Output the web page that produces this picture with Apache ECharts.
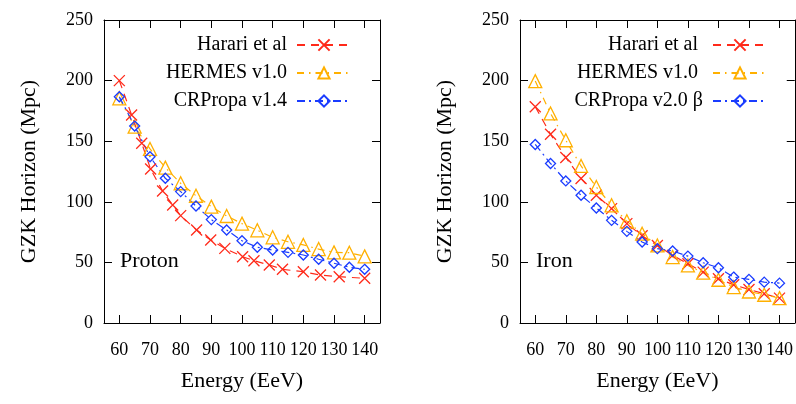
<!DOCTYPE html>
<html>
<head>
<meta charset="utf-8">
<script src="https://cdn.jsdelivr.net/npm/echarts@6/dist/echarts.min.js"></script>
<style>
    html, body { margin: 0; padding: 0; background: #fff; }
    #gzk-chart { width: 796px; height: 404px; }
</style>
</head>
<body>
<div id="gzk-chart"></div>
<script>
// energies (EeV) used by HERMES / CRPropa, and Harari's iron curve
var energies = [60, 65, 70, 75, 80, 85, 90, 95, 100, 105, 110, 115, 120, 125, 130, 135, 140];
// Harari proton points sit at their own energies
var harariProtonE = [60, 64, 67.3, 70.2, 74.1, 77.4, 80, 85.2, 89.8, 94.4, 100.2, 103.9, 108.9, 113.2, 120, 125.6, 131.7, 140];
var harariProton = [200, 171.6, 148.3, 127, 108.9, 97.4, 88.6, 76.7, 68.5, 61.6, 54.7, 51.4, 47.9, 44.3, 42.3, 39.6, 38.2, 36.9];
var hermesProton = [185.4, 162, 143.6, 128.2, 115.3, 105, 96, 88.3, 82, 76.5, 70.7, 67, 64.4, 61, 58.3, 58, 55];
var crpropaProton = [186.7, 162.5, 137.2, 119.4, 108.4, 96.5, 85.3, 76.7, 67.9, 62.5, 60.2, 58.3, 56.1, 52.6, 49.3, 46, 44.3];

var harariIron = [178.4, 155.8, 136.5, 119.2, 105.4, 94.4, 82, 72, 64, 55.8, 48.9, 42, 36.5, 31.5, 27.7, 24.1, 20.5];
var hermesIron = [199.6, 172.9, 150.8, 129.6, 112.2, 97.1, 83.9, 73.7, 64, 54.4, 47.5, 41.5, 35.7, 29.6, 26, 23.3, 20.5];
var crpropaIron = [147.3, 131.6, 117.2, 105.4, 94.9, 84.7, 75.6, 66.8, 61.3, 59.4, 55.2, 49.7, 45.6, 37.9, 36, 33.7, 32.9];

var xTicks = [60, 70, 80, 90, 100, 110, 120, 130, 140];

var FONT = 'Liberation Serif';
var RED = '#ff2a1a', ORANGE = '#ffb000', BLUE = '#1a3cff';
var CROSS = 'path://M0,0L10,10M10,0L0,10';

function pairs(xs, ys) {
    var out = [];
    for (var i = 0; i < ys.length; i++) out.push([xs[i], ys[i]]);
    return out;
}

function xAxisFor(grid, pos) {
    return {
        type: 'value', gridIndex: grid, position: pos,
        min: 55, max: 145,
        axisLine: { show: true, onZero: false, lineStyle: { color: '#000', width: 1 } },
        axisTick: { show: true, inside: true, length: 8, customValues: xTicks, lineStyle: { color: '#000' } },
        axisLabel: pos === 'bottom'
            ? { show: true, customValues: xTicks, margin: 18, color: '#000', fontFamily: FONT, fontSize: 18 }
            : { show: false },
        splitLine: { show: false },
        name: pos === 'bottom' ? 'Energy (EeV)' : '',
        nameLocation: 'middle', nameGap: 47,
        nameTextStyle: { color: '#000', fontFamily: FONT, fontSize: 22 }
    };
}

function yAxisFor(grid, pos) {
    return {
        type: 'value', gridIndex: grid, position: pos,
        min: 0, max: 250, interval: 50,
        axisLine: { show: true, onZero: false, lineStyle: { color: '#000', width: 1 } },
        axisTick: { show: true, inside: true, length: 8, lineStyle: { color: '#000' } },
        axisLabel: pos === 'left'
            ? { show: true, margin: 11, color: '#000', fontFamily: FONT, fontSize: 18 }
            : { show: false },
        splitLine: { show: false },
        name: pos === 'left' ? 'GZK Horizon (Mpc)' : '',
        nameLocation: 'middle', nameGap: 64,
        nameTextStyle: { color: '#000', fontFamily: FONT, fontSize: 22 }
    };
}

function curve(name, grid, data, color, symbol, size, dash) {
    return {
        name: name, type: 'line',
        xAxisIndex: grid * 2, yAxisIndex: grid * 2,
        data: data,
        symbol: symbol, symbolSize: size, showAllSymbol: true,
        color: color,
        lineStyle: { color: color, width: 1.2, type: dash },
        itemStyle: { color: 'rgba(0,0,0,0)', borderColor: color, borderWidth: 1.3 },
        emphasis: { disabled: true },
        animation: false
    };
}

function legendFor(names, right) {
    return {
        data: names, orient: 'vertical', align: 'right',
        right: right, top: 30,
        itemWidth: 54, itemHeight: 14, itemGap: 8,
        selectedMode: false,
        textStyle: { color: '#000', fontFamily: FONT, fontSize: 20, lineHeight: 20, padding: [0, 5, 0, 0] }
    };
}

var chart = echarts.init(document.getElementById('gzk-chart'));
var option = {
    backgroundColor: '#fff',
    animation: false,
    grid: [
        { left: 104, top: 20, width: 276, height: 303 },
        { left: 520, top: 20, width: 275, height: 303 }
    ],
    xAxis: [xAxisFor(0, 'bottom'), xAxisFor(0, 'top'), xAxisFor(1, 'bottom'), xAxisFor(1, 'top')],
    yAxis: [yAxisFor(0, 'left'), yAxisFor(0, 'right'), yAxisFor(1, 'left'), yAxisFor(1, 'right')],
    legend: [
        legendFor(['Harari et al', 'HERMES v1.0', 'CRPropa v1.4'], 796 - 357),
        legendFor(['Harari et al ', 'HERMES v1.0 ', 'CRPropa v2.0 β'], 796 - 773)
    ],
    graphic: [
        { type: 'text', left: 120, top: 250, style: { text: 'Proton', fill: '#000', font: '22px "Liberation Serif"' } },
        { type: 'text', left: 536, top: 250, style: { text: 'Iron', fill: '#000', font: '22px "Liberation Serif"' } }
    ],
    series: [
        curve('Harari et al', 0, pairs(harariProtonE, harariProton), RED, CROSS, 11, [8, 6]),
        curve('HERMES v1.0', 0, pairs(energies, hermesProton), ORANGE, 'triangle', 13, [7, 5, 1.5, 5]),
        curve('CRPropa v1.4', 0, pairs(energies, crpropaProton), BLUE, 'diamond', 10, [8, 4, 2, 4]),
        curve('Harari et al ', 1, pairs(energies, harariIron), RED, CROSS, 11, [8, 6]),
        curve('HERMES v1.0 ', 1, pairs(energies, hermesIron), ORANGE, 'triangle', 13, [7, 5, 1.5, 5]),
        curve('CRPropa v2.0 β', 1, pairs(energies, crpropaIron), BLUE, 'diamond', 10, [8, 4, 2, 4])
    ]
};
chart.setOption(option);
</script>
</body>
</html>
